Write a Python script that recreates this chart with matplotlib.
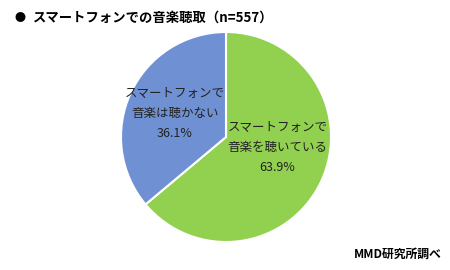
import matplotlib
matplotlib.use('Agg')
import matplotlib.pyplot as plt

plt.rcParams['font.family'] = ['Noto Sans CJK JP', 'DejaVu Sans']

labels = ['スマートフォンで\n音楽を聴いている', 'スマートフォンで\n音楽は聴かない']
values = [63.9, 36.1]
colors = ['#92D050', '#6F91D3']

fig = plt.figure(figsize=(4.5, 2.7), dpi=100)
ax = fig.add_axes([(226 - 105) / 450, 1 - (137 + 105) / 270, 210 / 450, 210 / 270])

wedges, _ = ax.pie(values, colors=colors, startangle=90, counterclock=False,
                   wedgeprops=dict(edgecolor='white', linewidth=1.5))
ax.set_xlim(-1, 1)
ax.set_ylim(-1, 1)
ax.set_aspect('equal')

# labels inside the slices
pos = [(0.49, -0.10), (-0.49, 0.22)]
for (x, y), lab, v in zip(pos, labels, values):
    ax.text(x, y, f'{lab}\n{v:.1f}%', ha='center', va='center',
            fontsize=9, linespacing=1.7, color='#222222')

fig.text(20 / 450, 1 - 18 / 270, '●', fontsize=8, va='center', ha='center')
fig.text(33 / 450, 1 - 18 / 270, 'スマートフォンでの音楽聴取（n=557）',
         fontsize=9.6, fontweight='bold', va='center', ha='left')
fig.text(442 / 450, 1 - 254 / 270, 'MMD研究所調べ',
         fontsize=8.5, fontweight='bold', va='center', ha='right')

fig.savefig('out.png', dpi=100)
